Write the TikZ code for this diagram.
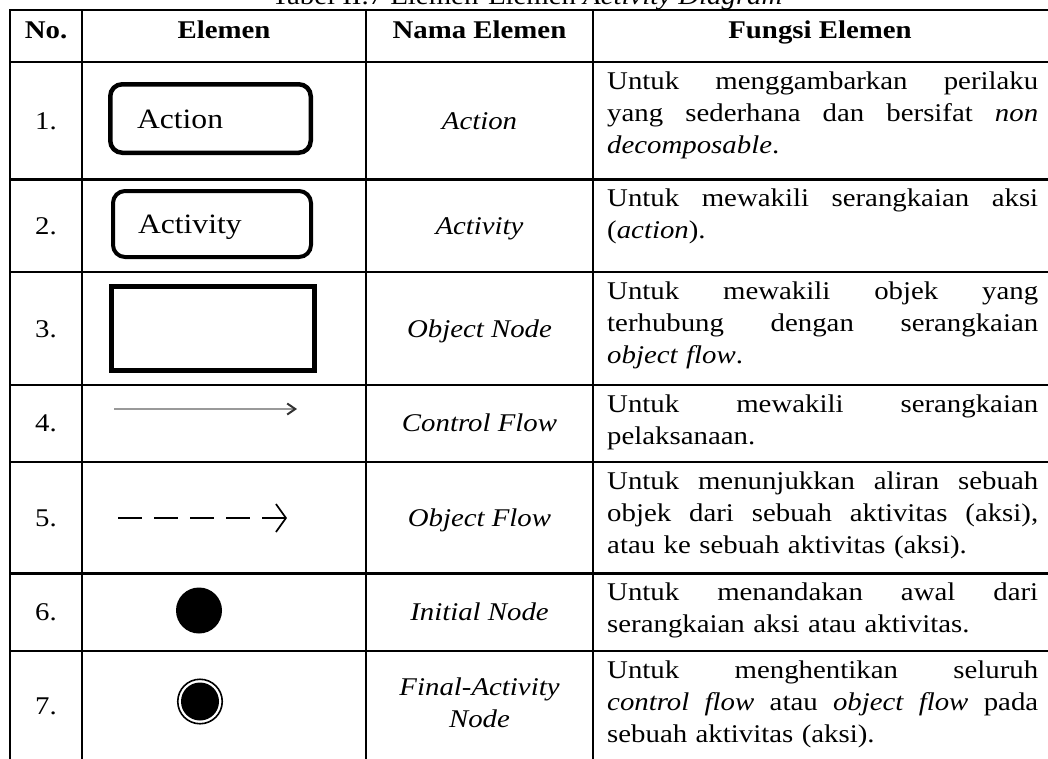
\documentclass[tikz,border=0pt]{standalone}
\usepackage{fontspec}
\setmainfont[FakeStretch=1.13]{Liberation Serif}
\usetikzlibrary{arrows.meta}

% justified line of the description column: the spaces share the slack evenly
\newlength{\fw}
\setlength{\fw}{431pt}
\newcommand{\jline}[1]{\leavevmode\hbox to \fw{\spaceskip=0.25em plus 1fil\relax
  \xspaceskip=0.25em plus 1fil\relax #1}}
\newcommand{\tabfont}{\fontsize{25.5}{32}\selectfont}

\begin{document}
\begin{tikzpicture}[x=1pt,y=-1pt,
  grid/.style={line width=2.4pt, line cap=rect},
  body/.style={font=\tabfont, inner sep=0pt},
  head/.style={font=\tabfont\bfseries, inner sep=0pt, anchor=base},
  num/.style={body, anchor=base},
  nama/.style={body, anchor=base, align=center, font=\tabfont\itshape},
  fungsi/.style={body, anchor=north west, text width=\fw, align=left},
  actbox/.style={draw, line width=4.5pt, rounded corners=12pt, inner sep=0pt,
                 font=\fontsize{28}{34}\selectfont, text height=19pt, text depth=0pt, align=left},
  objbox/.style={draw, line width=5pt, inner sep=0pt},
  ctrlflow/.style={draw=black!40, line width=2.6pt,
                   -{Straight Barb[length=8pt,width=11pt,line width=2pt,color=black!80]}},
  objflow/.style={draw, line width=1.7pt, dash pattern=on 24pt off 12pt,
                  -{Straight Barb[length=10pt,width=28pt,line width=1.7pt]}},
  dot/.style={circle, fill=black, inner sep=0pt}
]
\useasboundingbox (0,0) rectangle (1048,758);
\clip (0,0) rectangle (1048,758);
\fill[white] (0,0) rectangle (1048,758);

% caption (running off the top edge)
\node[body, anchor=base] (caption) at (527,4.5)
  {Tabel II.7 Elemen-Elemen \textit{Activity Diagram}};

% table rules
\foreach \y in {10,62,179.5,272,385,462,573.5,651}
  \draw[grid] (10,\y) -- (1060,\y);
\foreach \x in {10,82,366,593}
  \draw[grid] (\x,10) -- (\x,770);

% header
\node[head] (h-no)     at (46,38)    {No.};
\node[head] (h-elemen) at (224,38)   {Elemen};
\node[head] (h-nama)   at (479.5,38) {Nama Elemen};
\node[head] (h-fungsi) at (820,38)   {Fungsi Elemen};

% numbers
\node[num] (n1) at (46,129)    {1.};
\node[num] (n2) at (46,234)    {2.};
\node[num] (n3) at (46,337)    {3.};
\node[num] (n4) at (46,431.5)  {4.};
\node[num] (n5) at (46,526)    {5.};
\node[num] (n6) at (46,620.5)  {6.};
\node[num] (n7) at (46,714)    {7.};

% element symbols
\node[actbox, minimum width=200.5pt, minimum height=68.5pt, text width=147pt]
  (action) at (210.5,118.5) {Action};
\node[actbox, line width=4pt, minimum width=198pt, minimum height=66pt, text width=148pt]
  (activity) at (212,224) {Activity};
\node[objbox, minimum width=203pt, minimum height=84pt] (object) at (213,328.5) {};

\coordinate (cf-start) at (114,409);
\coordinate (cf-end)   at (297,409);
\draw[ctrlflow] (cf-start) -- (cf-end);

\coordinate (of-start) at (118,518);
\coordinate (of-end)   at (287,518);
\draw[objflow] (of-start) -- (of-end);

\node[dot, minimum size=46pt] (initial) at (199,610.5) {};
\node[circle, draw, line width=1.6pt, inner sep=0pt, minimum size=44.5pt] (final) at (200,701.5) {};
\node[dot, minimum size=38pt] (final-core) at (final.center) {};

% element names
\node[nama] (m1) at (479.5,129)    {Action};
\node[nama] (m2) at (479.5,234)    {Activity};
\node[nama] (m3) at (479.5,337)    {Object Node};
\node[nama] (m4) at (479.5,431.5)  {Control Flow};
\node[nama] (m5) at (479.5,526)    {Object Flow};
\node[nama] (m6) at (479.5,620.5)  {Initial Node};
\node[nama] (m7) at (479.5,727)    {Final-Activity\\Node};

% descriptions
\node[fungsi] (f1) at (607,66.6) {\strut\jline{Untuk menggambarkan perilaku}\\
  \jline{yang sederhana dan bersifat \textit{non}}\\ \textit{decomposable}.};
\node[fungsi] (f2) at (607,184.1) {\strut\jline{Untuk mewakili serangkaian aksi}\\
  (\textit{action}).};
\node[fungsi] (f3) at (607,276.6) {\strut\jline{Untuk mewakili objek yang}\\
  \jline{terhubung dengan serangkaian}\\ \textit{object flow}.};
\node[fungsi] (f4) at (607,389.6) {\strut\jline{Untuk mewakili serangkaian}\\
  pelaksanaan.};
\node[fungsi] (f5) at (607,466.6) {\strut\jline{Untuk menunjukkan aliran sebuah}\\
  \jline{objek dari sebuah aktivitas (aksi),}\\ atau ke sebuah aktivitas (aksi).};
\node[fungsi] (f6) at (607,578.1) {\strut\jline{Untuk menandakan awal dari}\\
  serangkaian aksi atau aktivitas.};
\node[fungsi] (f7) at (607,655.6) {\strut\jline{Untuk menghentikan seluruh}\\
  \jline{\textit{control flow} atau \textit{object flow} pada}\\ sebuah aktivitas (aksi).};
\end{tikzpicture}
\end{document}
